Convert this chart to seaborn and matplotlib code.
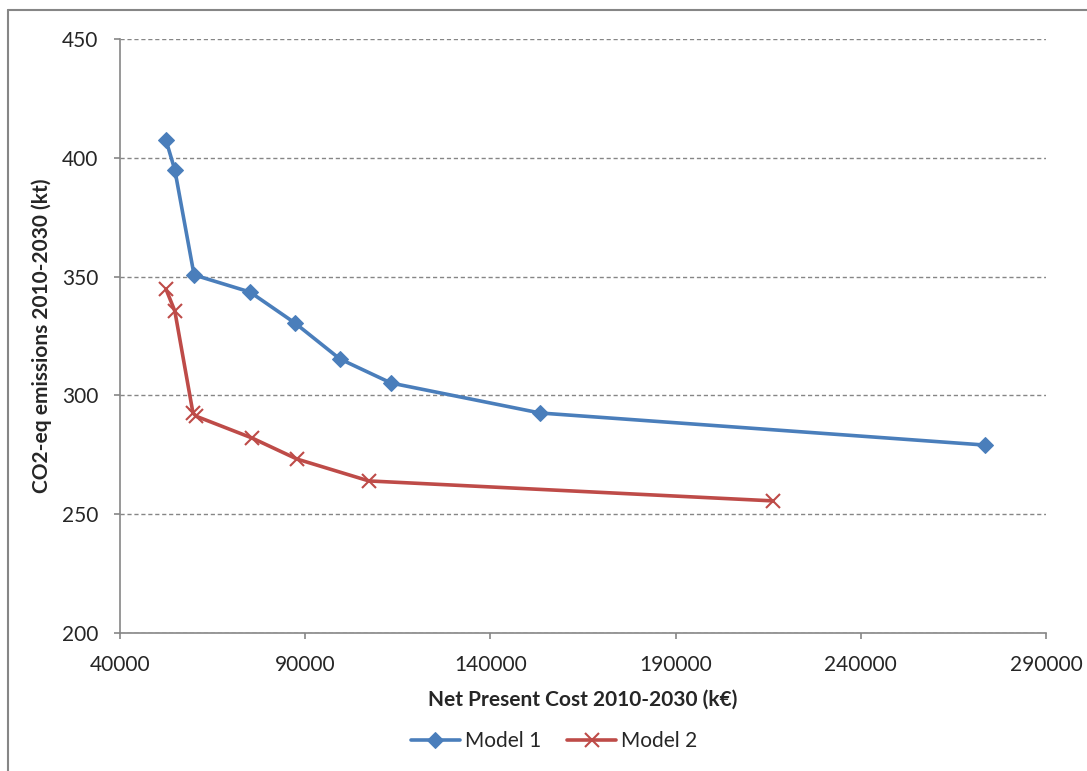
import matplotlib
matplotlib.use("Agg")
import matplotlib.pyplot as plt
import seaborn as sns
import pandas as pd
from matplotlib.lines import Line2D

# Data
m1_cost = [52400, 54800, 60000, 75100, 87200, 99400, 113200, 153400, 273500]
m1_co2 = [407.5, 394.9, 350.7, 343.5, 330.5, 315.3, 305.2, 292.6, 279.1]
m2_cost = [52400, 54800, 59700, 60600, 75600, 87800, 107200, 216300]
m2_co2 = [344.8, 335.5, 292.6, 291.2, 282.1, 273.2, 264.0, 255.6]
series_names = ["Model 1", "Model 2"]
x_ticks = [40000, 90000, 140000, 190000, 240000, 290000]
y_ticks = [200, 250, 300, 350, 400, 450]

df1 = pd.DataFrame({"cost": m1_cost, "co2": m1_co2})
df2 = pd.DataFrame({"cost": m2_cost, "co2": m2_co2})

sns.set_style("white")
plt.rcParams["font.family"] = ["Lato", "DejaVu Sans"]

fig = plt.figure(figsize=(10.87, 7.71), dpi=100)
ax = fig.add_axes([120/1087, 1-633/771, 926/1087, 594/771])

sns.lineplot(data=df1, x="cost", y="co2", color="#4a7ebb", marker="D",
             sort=False, estimator=None, linewidth=2.6, markersize=8,
             markeredgecolor="#4a7ebb", ax=ax, label=series_names[0])
sns.lineplot(data=df2, x="cost", y="co2", color="#be4b48", marker="x",
             sort=False, estimator=None, linewidth=2.6, markersize=10,
             markeredgewidth=1.5, markeredgecolor="#be4b48",
             ax=ax, label=series_names[1])

ax.set_xlim(40000, 290000)
ax.set_ylim(200, 450)
ax.set_xticks(x_ticks)
ax.set_yticks(y_ticks)
ax.set_xticklabels([str(t) for t in x_ticks], fontsize=15)
ax.set_yticklabels([str(t) for t in y_ticks], fontsize=15)
ax.yaxis.grid(True, linestyle=(0, (3, 2)), color="#868686", linewidth=1.0)
ax.set_axisbelow(True)
for s in ["top", "right"]:
    ax.spines[s].set_visible(False)
for s in ["left", "bottom"]:
    ax.spines[s].set_color("#868686")
    ax.spines[s].set_linewidth(1.2)
ax.tick_params(axis="y", direction="out", length=4.5, color="#868686", width=1.2,
               left=True, pad=11)
ax.tick_params(axis="x", direction="out", length=4.5, color="#868686", width=1.2,
               bottom=True, pad=11)

ax.set_xlabel("Net Present Cost 2010-2030 (k€)", fontsize=15, fontweight="bold", va="center")
ax.xaxis.set_label_coords(0.5, (633-700)/594)
ax.set_ylabel("CO2-eq emissions 2010-2030 (kt)", fontsize=15, fontweight="bold", va="center")
ax.yaxis.set_label_coords((42-120)/926, 0.5)

handles, labels = ax.get_legend_handles_labels()
ax.legend(handles, labels, loc="center", bbox_to_anchor=(554/1087, 1-741/771),
          bbox_transform=fig.transFigure, ncol=2, frameon=False, fontsize=15,
          handlelength=2.35, columnspacing=1.25, handletextpad=0.25)

# outer chart border (top and left edges visible)
fig.add_artist(Line2D([8/1087, 1.0], [1-10/771, 1-10/771], transform=fig.transFigure,
                      color="#868686", linewidth=1.5))
fig.add_artist(Line2D([8/1087, 8/1087], [0, 1-10/771], transform=fig.transFigure,
                      color="#868686", linewidth=1.5))

fig.savefig("out.png", dpi=100)
